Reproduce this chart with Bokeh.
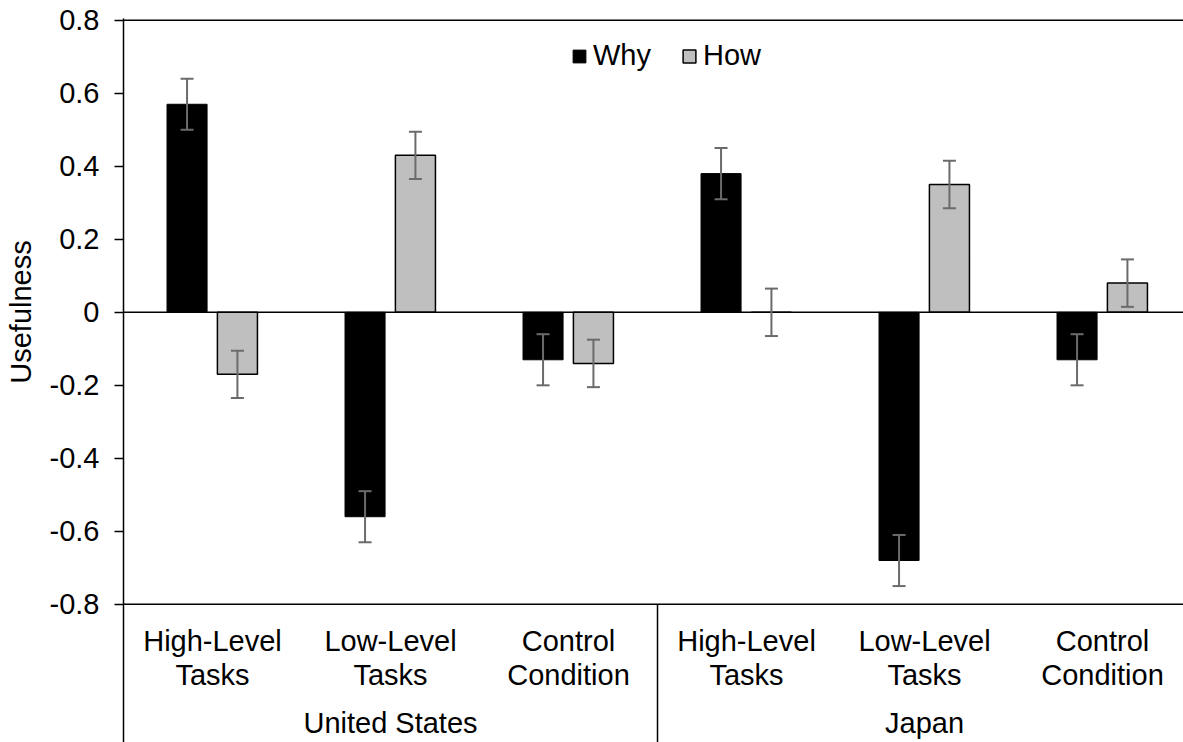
import numpy as np
from bokeh.plotting import figure
from bokeh.models import (Range1d, FixedTicker, CustomJSTickFormatter, ColumnDataSource,
                          Whisker, TeeHead, Legend, LegendItem, Span)
from bokeh.core.properties import value
from bokeh.embed import file_html
from bokeh.resources import INLINE

# ---- data ----
countries = ["United States", "Japan"]
conditions = ["High-Level\nTasks", "Low-Level\nTasks", "Control\nCondition"]
why = [0.57, -0.56, -0.13, 0.38, -0.68, -0.13]
how = [-0.17, 0.43, -0.14, 0.00, 0.35, 0.08]
why_err = [0.07, 0.07, 0.07, 0.07, 0.07, 0.07]
how_err = [0.065, 0.065, 0.065, 0.065, 0.065, 0.065]
y_ticks = [-0.8, -0.6, -0.4, -0.2, 0.0, 0.2, 0.4, 0.6, 0.8]
y_title = "Usefulness"
series_names = ["Why", "How"]

FONT = "Liberation Sans"
FS = "29px"
ERR_COLOR = "#6b6b6b"

n_groups = len(countries) * len(conditions)
idx = np.arange(n_groups) + 0.5
bar_w = 0.225

src = ColumnDataSource(dict(
    xw=idx - 0.143, xh=idx + 0.14,
    why=why, how=how,
    why_lo=np.array(why) - np.array(why_err), why_hi=np.array(why) + np.array(why_err),
    how_lo=np.array(how) - np.array(how_err), how_hi=np.array(how) + np.array(how_err),
))

p = figure(frame_width=1060, frame_height=724,
           min_border_left=123, min_border_right=0, min_border_top=18, min_border_bottom=0,
           x_range=Range1d(0, 5.955), y_range=Range1d(-1.1786, 0.805),
           x_axis_location=None, output_backend="svg", toolbar_location=None)
p.grid.visible = False
p.outline_line_color = None

yax = p.yaxis[0]
yax.ticker = FixedTicker(ticks=y_ticks)
yax.formatter = CustomJSTickFormatter(code="return tick == 0 ? '0' : tick.toFixed(1);")
yax.axis_line_color = "black"
yax.axis_line_width = 1.5
yax.major_tick_line_color = "black"
yax.major_tick_line_width = 1.5
yax.major_tick_out = 9
yax.major_tick_in = 0
yax.minor_tick_out = 0
yax.minor_tick_in = 0
yax.major_label_standoff = 15
yax.major_label_text_font = FONT
yax.major_label_text_font_size = FS
yax.major_label_text_color = "black"
# axis title: leading no-break spaces lift it to the centre of the -0.8..0.8 span
yax.axis_label = "\u00a0" * 17 + y_title
yax.axis_label_text_font = FONT
yax.axis_label_text_font_size = FS
yax.axis_label_text_font_style = "normal"
yax.axis_label_text_color = "black"
yax.axis_label_standoff = 10

# horizontal rules: top, zero, bottom axis
for yv in (y_ticks[-1], 0.0, y_ticks[0]):
    p.add_layout(Span(location=yv, dimension="width", line_color="black", line_width=1.5))

# separator between countries
p.segment(x0=[len(conditions)], y0=[y_ticks[0]], x1=[len(conditions)], y1=[-2],
          line_color="black", line_width=1.5)

r_why = p.vbar(x="xw", top="why", bottom=0, width=bar_w, source=src,
               fill_color="black", line_color="black", line_width=1)
r_how = p.vbar(x="xh", top="how", bottom=0, width=bar_w, source=src,
               fill_color="#bfbfbf", line_color="black", line_width=1.5)

for base, lo, hi in (("xw", "why_lo", "why_hi"), ("xh", "how_lo", "how_hi")):
    w = Whisker(source=src, base=base, lower=lo, upper=hi,
                line_color=ERR_COLOR, line_width=2,
                upper_head=TeeHead(size=13, line_color=ERR_COLOR, line_width=2),
                lower_head=TeeHead(size=13, line_color=ERR_COLOR, line_width=2))
    w.level = "overlay"
    p.add_layout(w)

# category labels
cat_text = conditions * len(countries)
p.text(x=idx, y=[-0.9466] * n_groups, text=cat_text, text_align="center",
       text_baseline="middle", text_font=value(FONT), text_font_size=FS,
       text_color="black", text_line_height=1.08)

grp_x = [i * len(conditions) + len(conditions) / 2 for i in range(len(countries))]
p.text(x=grp_x, y=[-1.126] * len(countries), text=countries, text_align="center",
       text_baseline="middle", text_font=value(FONT), text_font_size=FS, text_color="black")

legend = Legend(items=[LegendItem(label=series_names[0], renderers=[r_why]),
                       LegendItem(label=series_names[1], renderers=[r_how])],
                orientation="horizontal", location=(448, 670),
                glyph_width=16, glyph_height=16, label_standoff=6, spacing=30,
                padding=0, margin=0, border_line_alpha=0, background_fill_alpha=0,
                label_text_font=FONT, label_text_font_size=FS, label_text_color="black")
p.add_layout(legend)

open("out.html", "w").write(file_html(p, INLINE))
